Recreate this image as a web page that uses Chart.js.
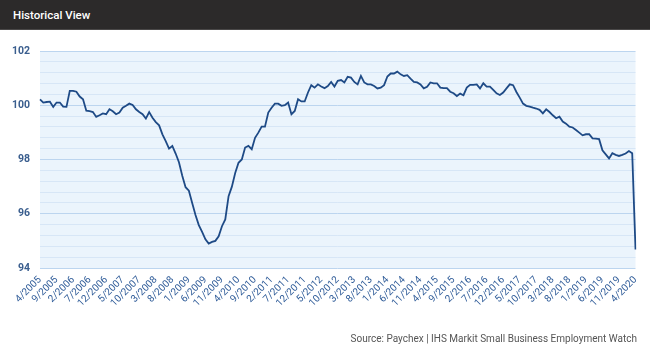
<!DOCTYPE html>
<html>
<head>
<meta charset="utf-8">
<script src="https://cdn.jsdelivr.net/npm/chart.js@4"></script>
<style>
  html, body { margin: 0; padding: 0; background: #ffffff; width: 650px; height: 357px; overflow: hidden; font-family: Roboto, "Liberation Sans", Arial, sans-serif; }
  #header { position: absolute; left: 0; top: 0; width: 650px; height: 30px; background: #2c2a2a; border-bottom: 1px solid #4a4848; box-sizing: border-box; }
  #header span { position: absolute; left: 13px; top: 8px; color: #ffffff; font-size: 11.5px; font-weight: 500; }
  #wrap { position: absolute; left: 0; top: 30px; width: 650px; height: 327px; }
  #source { position: absolute; right: 13px; top: 333px; font-size: 10px; color: #555555; white-space: nowrap; }
</style>
</head>
<body>
<div id="header"><span>Historical View</span></div>
<div id="wrap"><canvas id="c"></canvas></div>
<div id="source">Source: Paychex | IHS Markit Small Business Employment Watch</div>
<script>
// Monthly index values, 4/2005 .. 4/2020
const values = [
  100.22, 100.10, 100.12, 100.13, 99.94, 100.10, 100.10, 99.95, 99.94, 100.53,
  100.53, 100.50, 100.32, 100.22, 99.80, 99.78, 99.75, 99.57, 99.63, 99.70,
  99.67, 99.85, 99.78, 99.67, 99.73, 99.91, 99.98, 100.06, 100.01, 99.85,
  99.75, 99.67, 99.51, 99.75, 99.54, 99.38, 99.26, 98.93, 98.68, 98.40,
  98.50, 98.22, 97.90, 97.40, 96.98, 96.85, 96.40, 95.95, 95.58, 95.33,
  95.06, 94.90, 94.96, 95.00, 95.17, 95.54, 95.79, 96.65, 97.00, 97.50,
  97.88, 98.00, 98.44, 98.50, 98.38, 98.80, 98.99, 99.21, 99.21, 99.73,
  99.91, 100.06, 100.06, 99.98, 100.00, 100.10, 99.67, 99.79, 100.22, 100.14,
  100.14, 100.47, 100.74, 100.65, 100.77, 100.69, 100.63, 100.71, 100.86, 100.69,
  100.90, 100.93, 100.84, 101.05, 101.02, 100.86, 100.77, 101.08, 100.84, 100.77,
  100.77, 100.71, 100.62, 100.65, 100.74, 101.06, 101.17, 101.17, 101.24, 101.14,
  101.08, 101.11, 100.98, 100.86, 100.84, 100.77, 100.62, 100.68, 100.84, 100.81,
  100.81, 100.65, 100.63, 100.63, 100.50, 100.44, 100.34, 100.43, 100.37, 100.65,
  100.75, 100.75, 100.77, 100.62, 100.81, 100.69, 100.69, 100.57, 100.44, 100.38,
  100.47, 100.62, 100.77, 100.74, 100.49, 100.28, 100.06, 99.98, 99.95, 99.91,
  99.88, 99.83, 99.70, 99.85, 99.75, 99.63, 99.52, 99.58, 99.40, 99.32,
  99.21, 99.18, 99.09, 98.99, 98.89, 98.93, 98.93, 98.78, 98.77, 98.75,
  98.34, 98.19, 98.04, 98.23, 98.17, 98.13, 98.17, 98.22, 98.31, 98.23,
  94.68
];

// Category labels: one per month starting 4/2005
const startMonth = 4, startYear = 2005;
const categories = [];
for (let i = 0; i < values.length; i++) {
  const m = (startMonth - 1 + i) % 12 + 1;
  const y = startYear + Math.floor((startMonth - 1 + i) / 12);
  categories.push(m + '/' + y);
}

// Tick labels shown on the x axis (every 5th month)
const tickLabels = ['4/2005','9/2005','2/2006','7/2006','12/2006','5/2007','10/2007','3/2008','8/2008','1/2009','6/2009','11/2009','4/2010','9/2010','2/2011','7/2011','12/2011','5/2012','10/2012','3/2013','8/2013','1/2014','6/2014','11/2014','4/2015','9/2015','2/2016','7/2016','12/2016','5/2017','10/2017','3/2018','8/2018','1/2019','6/2019','11/2019','4/2020'];
const yTickLabels = [94, 96, 98, 100, 102];

const bgPlugin = {
  id: 'plotBg',
  beforeDraw(chart) {
    const a = chart.chartArea, ctx = chart.ctx;
    ctx.save();
    ctx.fillStyle = '#ebf4fc';
    ctx.fillRect(a.left, a.top, a.right - a.left, a.bottom - a.top);
    ctx.restore();
  }
};

function isMajor(v) {
  const r = Math.round(v);
  return Math.abs(v - r) < 1e-6 && yTickLabels.includes(r);
}

new Chart(document.getElementById('c'), {
  type: 'line',
  data: {
    labels: categories,
    datasets: [{
      data: values,
      borderColor: '#1e4a86',
      borderWidth: 1.8,
      pointRadius: 0,
      tension: 0,
      fill: false
    }]
  },
  options: {
    responsive: true,
    maintainAspectRatio: false,
    animation: false,
    layout: { padding: { top: 21, right: 13, bottom: 29, left: 0 } },
    plugins: { legend: { display: false }, tooltip: { enabled: false } },
    scales: {
      x: {
        type: 'category',
        offset: false,
        grid: { display: false, drawTicks: false },
        border: { display: false },
        afterFit(scale) { scale.height = 60; },
        ticks: {
          autoSkip: false,
          maxRotation: 45,
          minRotation: 45,
          padding: 6,
          color: '#2e5b98',
          font: { family: 'Roboto', size: 10 },
          callback(value, index) {
            const lab = categories[index];
            return tickLabels.includes(lab) ? lab : null;
          }
        }
      },
      y: {
        min: 94,
        max: 102,
        afterFit(scale) { scale.width = 40; },
        grid: {
          drawTicks: false,
          color(ctx) { return isMajor(ctx.tick.value) ? '#bcd5ef' : '#d7e6f6'; },
          lineWidth: 1
        },
        border: { display: false },
        ticks: {
          stepSize: 0.4,
          maxTicksLimit: 40,
          autoSkip: false,
          padding: 10,
          color: '#3a5e8e',
          font: { family: 'Roboto', size: 10.5, weight: 'bold' },
          callback(value) { return isMajor(value) ? String(Math.round(value)) : ''; }
        }
      }
    }
  },
  plugins: [bgPlugin]
});
</script>
</body>
</html>
